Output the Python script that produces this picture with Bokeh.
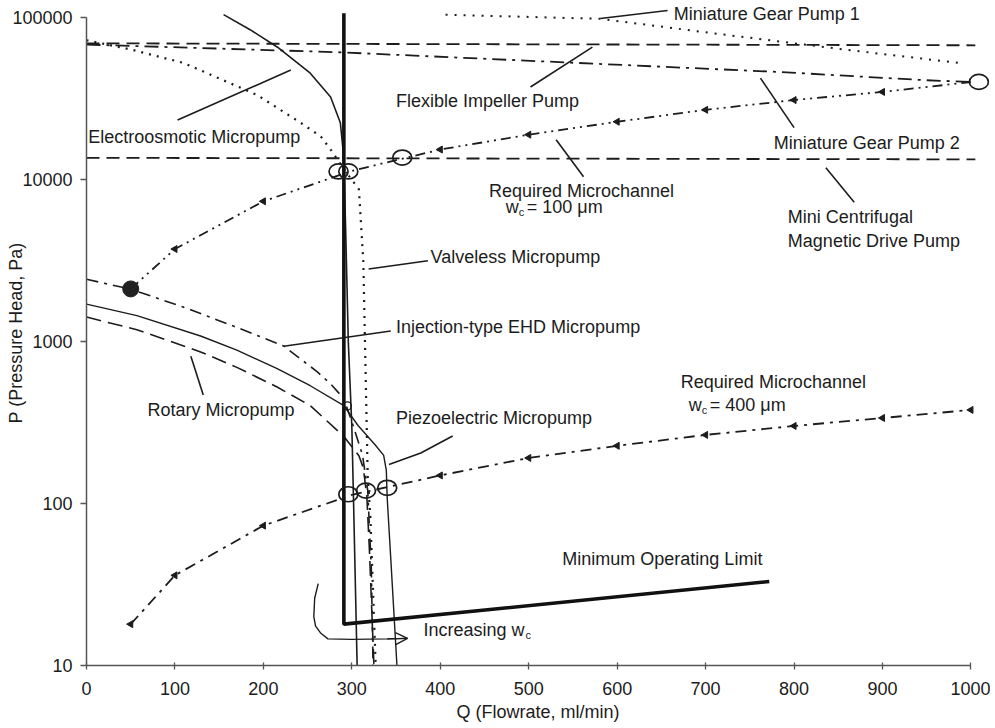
from bokeh.plotting import figure
from bokeh.models import Range1d, FixedTicker, Arrow, OpenHead, PrintfTickFormatter
from bokeh.core.properties import value
from bokeh.embed import file_html
from bokeh.resources import INLINE

FONT = "Liberation Sans"
INK = "#1c1c1c"

# ---------------- data ----------------
x_ticks = [0, 100, 200, 300, 400, 500, 600, 700, 800, 900, 1000]
x_tick_labels = ["0", "100", "200", "300", "400", "500", "600", "700", "800", "900", "1000"]
y_ticks = [10, 100, 1000, 10000, 100000]
y_tick_labels = ["10", "100", "1000", "10000", "100000"]

# pump curves: Q (ml/min) vs P (Pa)
electro_q = [155, 185, 216, 253, 276, 287, 290, 291, 293, 296, 300, 302, 306]
electro_p = [104000, 84000, 65500, 45300, 32300, 22400, 15300, 12400, 5000, 1000, 300, 100, 10]

minlimit_q = [291, 291, 772]
minlimit_p = [106000, 18, 33]

flex_q = [0, 1005]
flex_p = [69200, 67300]

gear2_q = [0, 288, 785, 947, 1000]
gear2_p = [68000, 60900, 46000, 41000, 40000]

gear1_q = [406, 581, 709, 864, 989]
gear1_p = [104000, 98000, 79800, 62700, 52200]

centri_q = [0, 1005]
centri_p = [13600, 13300]

valveless_q = [0, 53, 110, 193, 242, 265, 276, 293, 308, 313, 318, 321, 327]
valveless_p = [72300, 62900, 52300, 33200, 22400, 18400, 15300, 11200, 8690, 3100, 145, 82, 10]

ehd_q = [0, 50, 113, 166, 223, 261, 276, 291, 300, 312, 318, 322, 324]
ehd_p = [2421, 2101, 1606, 1245, 938, 649, 548, 443, 320, 200, 120, 40, 10]

rotary_q = [0, 57, 129, 170, 215, 253, 291, 308, 313, 317, 320, 325]
rotary_p = [1414, 1182, 862, 692, 525, 402, 259, 197, 166, 110, 50, 10]

piezo_q = [0, 57, 129, 170, 215, 253, 291, 307, 327, 336, 339, 340, 344, 351]
piezo_p = [1700, 1444, 1081, 883, 682, 533, 402, 303, 228, 198, 160, 108, 46, 10]

# required microchannel system curves
req100_q = [50, 100, 200, 300, 400, 500, 600, 700, 800, 900, 1000]
req100_p = [2110, 3720, 7330, 11300, 15300, 18900, 22700, 26900, 30900, 34700, 39900]
req400_q = [50, 100, 200, 300, 400, 500, 600, 700, 800, 900, 1000]
req400_p = [18, 36, 73, 113, 149, 191, 227, 265, 301, 337, 378]
req_marker_q = [100, 200, 400, 500, 600, 700, 800, 900]
req100_marker_p = [3720, 7330, 15300, 18900, 22700, 26900, 30900, 34700]
req400_marker_q = [50, 100, 200, 400, 500, 600, 700, 800, 900, 1000]
req400_marker_p = [18, 36, 73, 149, 191, 227, 265, 301, 337, 378]

# operating points
open_q = [285, 296, 357, 1009, 296, 316, 340]
open_p = [11200, 11200, 13650, 40000, 114, 120, 125]
small_open_q = [295]
small_open_p = [400]
filled_q = [50]
filled_p = [2110]

# "Increasing wc" arrow path
incr_q = [262, 258, 257, 259, 265, 273, 300, 340, 363]
incr_p = [32, 26, 20, 17.5, 15.8, 14.6, 14.5, 14.6, 14.7]

# leader lines (label -> curve)
leader_qs = [[103, 231], [581, 657], [502, 572], [762, 800], [531, 562],
             [836, 868], [319, 386], [223, 344], [118, 132], [342, 378, 414]]
leader_ps = [[23300, 47300], [98600, 110400], [37200, 65500], [42200, 20900], [17600, 10400],
             [11800, 7240], [2800, 3150], [935, 1160], [810, 467], [174, 205, 261]]

label_text = ["Miniature Gear Pump 1", "Flexible Impeller Pump", "Electroosmotic Micropump",
              "Miniature Gear Pump 2", "Required Microchannel", "Mini Centrifugal",
              "Magnetic Drive Pump", "Valveless Micropump", "Injection-type EHD Micropump",
              "Rotary Micropump", "Piezoelectric Micropump", "Required Microchannel",
              "Minimum Operating Limit"]
label_q = [664, 350, 2, 777, 455, 793, 793, 389, 350, 69, 350, 672, 538]
label_p = [104300, 30500, 18400, 16900, 8440, 5850, 4170, 3320, 1236, 378, 337, 560, 45.3]

# labels with subscript c:  "w" + "c" + rest
wc_main_text = ["w", "w", "Increasing w"]
wc_rest_text = ["= 100 \u03bcm", "= 400 \u03bcm", ""]
wc_q = [474, 681, 381]
wc_p = [6730, 405, 16.6]
wc_sub_offset = [13, 13, 102]
wc_rest_offset = [21, 21, 112]

# ---------------- figure ----------------
fig = figure(width=990, height=724, y_axis_type="log",
             x_range=Range1d(0, 1021), y_range=Range1d(10, 127200),
             output_backend="svg", toolbar_location=None,
             min_border_left=86, min_border_right=1, min_border_top=0, min_border_bottom=56)
fig.outline_line_color = None
fig.grid.visible = False
fig.background_fill_color = "white"
fig.border_fill_color = "white"

xa = fig.xaxis[0]
ya = fig.yaxis[0]
xa.ticker = FixedTicker(ticks=x_ticks)
xa.major_label_overrides = {t: s for t, s in zip(x_ticks, x_tick_labels)}
ya.ticker = FixedTicker(ticks=y_ticks)
ya.formatter = PrintfTickFormatter(format="%d")
ya.major_label_overrides = {t: s for t, s in zip(y_ticks, y_tick_labels)}
xa.bounds = (0, 1000)
ya.bounds = (10, 100000)
xa.axis_label = "Q (Flowrate, ml/min)"
ya.axis_label = "P (Pressure Head, Pa)"
for ax in (xa, ya):
    ax.axis_line_color = "#555555"
    ax.axis_line_width = 1.5
    ax.major_tick_line_color = "#555555"
    ax.major_tick_line_width = 1.3
    ax.minor_tick_line_color = None
    ax.major_label_text_font = FONT
    ax.major_label_text_font_size = "18px"
    ax.major_label_text_color = INK
    ax.axis_label_text_font = FONT
    ax.axis_label_text_font_size = "18px"
    ax.axis_label_text_font_style = "normal"
    ax.axis_label_text_color = INK
xa.major_tick_in = 3
xa.major_tick_out = 4
xa.major_label_standoff = 12
xa.axis_label_standoff = 4
ya.major_tick_in = 0
ya.major_tick_out = 6
ya.major_label_standoff = 8
ya.axis_label_standoff = -17

# pump curves
fig.line(flex_q, flex_p, line_color=INK, line_width=1.8, line_dash="13 7")
fig.line(centri_q, centri_p, line_color=INK, line_width=1.8, line_dash="13 7")
fig.line(gear2_q, gear2_p, line_color=INK, line_width=1.8, line_dash="14 6 3 6")
fig.line(gear1_q, gear1_p, line_color=INK, line_width=2, line_dash="2 7")
fig.line(valveless_q, valveless_p, line_color=INK, line_width=2.2, line_dash="2 6")
fig.line(electro_q, electro_p, line_color=INK, line_width=1.6)
fig.line(ehd_q, ehd_p, line_color=INK, line_width=1.6, line_dash="12 6 3 6")
fig.line(rotary_q, rotary_p, line_color=INK, line_width=1.6, line_dash="15 7")
fig.line(piezo_q, piezo_p, line_color=INK, line_width=1.4)
fig.line(minlimit_q, minlimit_p, line_color="#111111", line_width=3.6)

# required microchannel curves
fig.line(req100_q, req100_p, line_color=INK, line_width=1.8, line_dash="10 5 2 5 2 5")
fig.line(req400_q, req400_p, line_color=INK, line_width=1.8, line_dash="11 6 3 6")
fig.scatter(req_marker_q, req100_marker_p, marker="triangle", angle=1.5708, size=7,
            fill_color=INK, line_color=INK)
fig.scatter(req400_marker_q, req400_marker_p, marker="triangle", angle=1.5708, size=7,
            fill_color=INK, line_color=INK)

# operating points
fig.ellipse(open_q, open_p, width=19, height=15, width_units="screen", height_units="screen",
            fill_color=None, line_color=INK, line_width=1.7)
fig.ellipse(small_open_q, small_open_p, width=8, height=8, width_units="screen",
            height_units="screen", fill_color=None, line_color=INK, line_width=1.3)
fig.scatter(filled_q, filled_p, marker="circle", size=16, fill_color="#222222", line_color="#222222")

# leader lines
fig.multi_line(leader_qs, leader_ps, line_color=INK, line_width=1.6)

# increasing wc arrow
fig.line(incr_q, incr_p, line_color=INK, line_width=1.4)
fig.add_layout(Arrow(end=OpenHead(size=12, line_color=INK, line_width=1.4),
                     x_start=incr_q[-2], y_start=incr_p[-2], x_end=incr_q[-1], y_end=incr_p[-1],
                     line_color=INK, line_width=1.4))

# labels
fig.text(label_q, label_p, text=label_text, text_font=value(FONT), text_font_size="18px",
         text_color=INK, text_align="left", text_baseline="middle")
fig.text(wc_q, wc_p, text=wc_main_text, text_font=value(FONT), text_font_size="18px",
         text_color=INK, text_align="left", text_baseline="middle")
fig.text(wc_q, wc_p, text=["c"] * len(wc_q), x_offset=wc_sub_offset, y_offset=[5] * len(wc_q),
         text_font=value(FONT), text_font_size="11px",
         text_color=INK, text_align="left", text_baseline="middle")
fig.text(wc_q, wc_p, text=wc_rest_text, x_offset=wc_rest_offset, text_font=value(FONT),
         text_font_size="18px", text_color=INK, text_align="left", text_baseline="middle")

open("out.html", "w").write(file_html(fig, INLINE))
